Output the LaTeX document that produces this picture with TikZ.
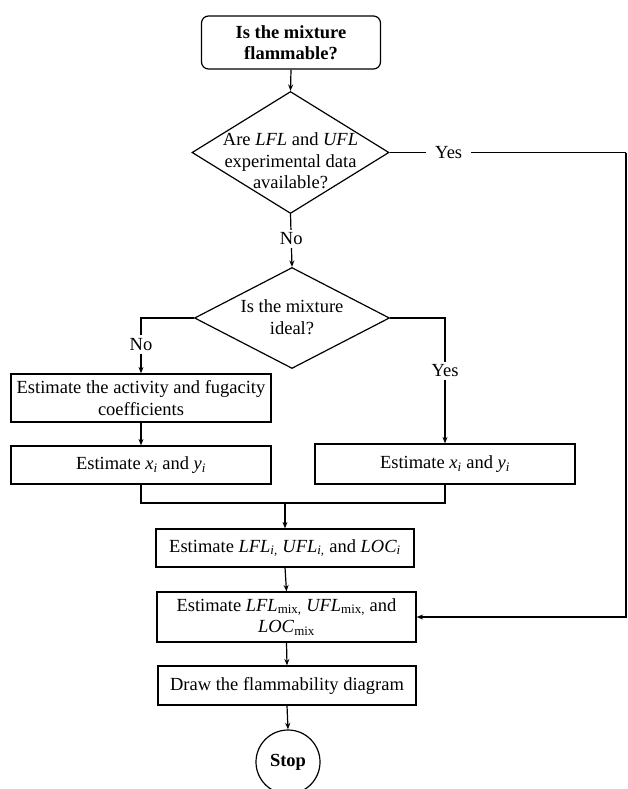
\documentclass[tikz,border=0pt]{standalone}
\usepackage{fontspec}
\setmainfont{Liberation Serif}
\usetikzlibrary{arrows.meta,shapes.geometric,positioning}
\begin{document}
\begin{tikzpicture}[x=1pt,y=-1pt,
  every node/.style={font=\fontsize{18.5}{21.5}\selectfont},
  arr/.style={line width=1.2pt,-{Stealth[length=6.5pt,width=5pt]}},
  boxst/.style={draw,line width=1.2pt,rectangle,inner sep=0pt,align=center},
  decbox/.style={draw,line width=1.2pt,diamond,inner sep=0pt},
  lab/.style={fill=white,inner xsep=6pt,inner ysep=3pt}
]
\useasboundingbox (0,0) rectangle (627,789);
% top terminal
\node[draw,line width=1.2pt,rounded corners=7pt,minimum width=179pt,minimum height=53pt,align=center,
  font=\fontsize{18.5}{21.5}\selectfont\bfseries] (start) at (291,42.5) {Is the mixture\\flammable?};
% decision 1
\node[decbox,minimum width=197pt,minimum height=122pt] (d1) at (290.5,152.5) {};
\node[align=center] (d1t) at (290.5,161) {Are \textit{LFL} and \textit{UFL}\\experimental data\\available?};
% decision 2
\node[decbox,minimum width=195pt,minimum height=101pt] (d2) at (292,318) {};
\node[align=center] (d2t) at (292,317) {Is the mixture\\ideal?};
% left boxes
\node[boxst,minimum width=260pt,minimum height=48pt] (lb1) at (141,398) {Estimate the activity and fugacity\\coefficients};
\node[boxst,minimum width=260pt,minimum height=38pt] (lb2) at (141,465) {Estimate \textit{x\textsubscript{i}} and \textit{y\textsubscript{i}}};
% right box
\node[boxst,minimum width=260pt,minimum height=40pt] (rb) at (445,464) {Estimate \textit{x\textsubscript{i}} and \textit{y\textsubscript{i}}};
% lower chain
\node[boxst,minimum width=258pt,minimum height=38pt] (lfli) at (285,548) {Estimate \textit{LFL\textsubscript{i,}} \textit{UFL\textsubscript{i,}} and \textit{LOC\textsubscript{i}}};
\node[boxst,minimum width=259pt,minimum height=50pt] (mix) at (286.5,617) {Estimate \textit{LFL}\textsubscript{mix,} \textit{UFL}\textsubscript{mix,} and\\\textit{LOC}\textsubscript{mix}};
\node[boxst,minimum width=258pt,minimum height=39pt] (draw) at (287,685.5) {Draw the flammability diagram};
\node[draw,line width=1.2pt,circle,minimum size=64pt,inner sep=0pt,font=\fontsize{18.5}{21.5}\selectfont\bfseries] (stop) at (288,762) {Stop};
% coordinates
\coordinate (rc) at (626,152.5);
\coordinate (jl) at (141,503);
\coordinate (jr) at (445,503);
\coordinate (jm) at (285,503);
% connectors
\draw[arr] (start.south) -- (d1.north);
\draw[arr] (d1.south) -- node[lab,pos=0.47]{No} (d2.north);
\draw[line width=1.2pt] (d1.east) -- node[lab,pos=0.25,inner xsep=9pt]{Yes} (rc);
\draw[arr] (rc) |- (mix.east);
\draw[arr] (d2.west) -| node[lab,pos=0.74]{No} (lb1.north);
\draw[arr] (d2.east) -| node[lab,pos=0.71]{Yes} (rb.north);
\draw[arr] (lb1.south) -- (lb2.north);
\draw[line width=1.2pt] (lb2.south) -- (jl) -- (jr) -- (rb.south);
\draw[arr] (jm) -- (lfli.north);
\draw[arr] (lfli.south) -- (mix.north);
\draw[arr] (mix.south) -- (draw.north);
\draw[arr] (draw.south) -- (stop.north);
\end{tikzpicture}
\end{document}
